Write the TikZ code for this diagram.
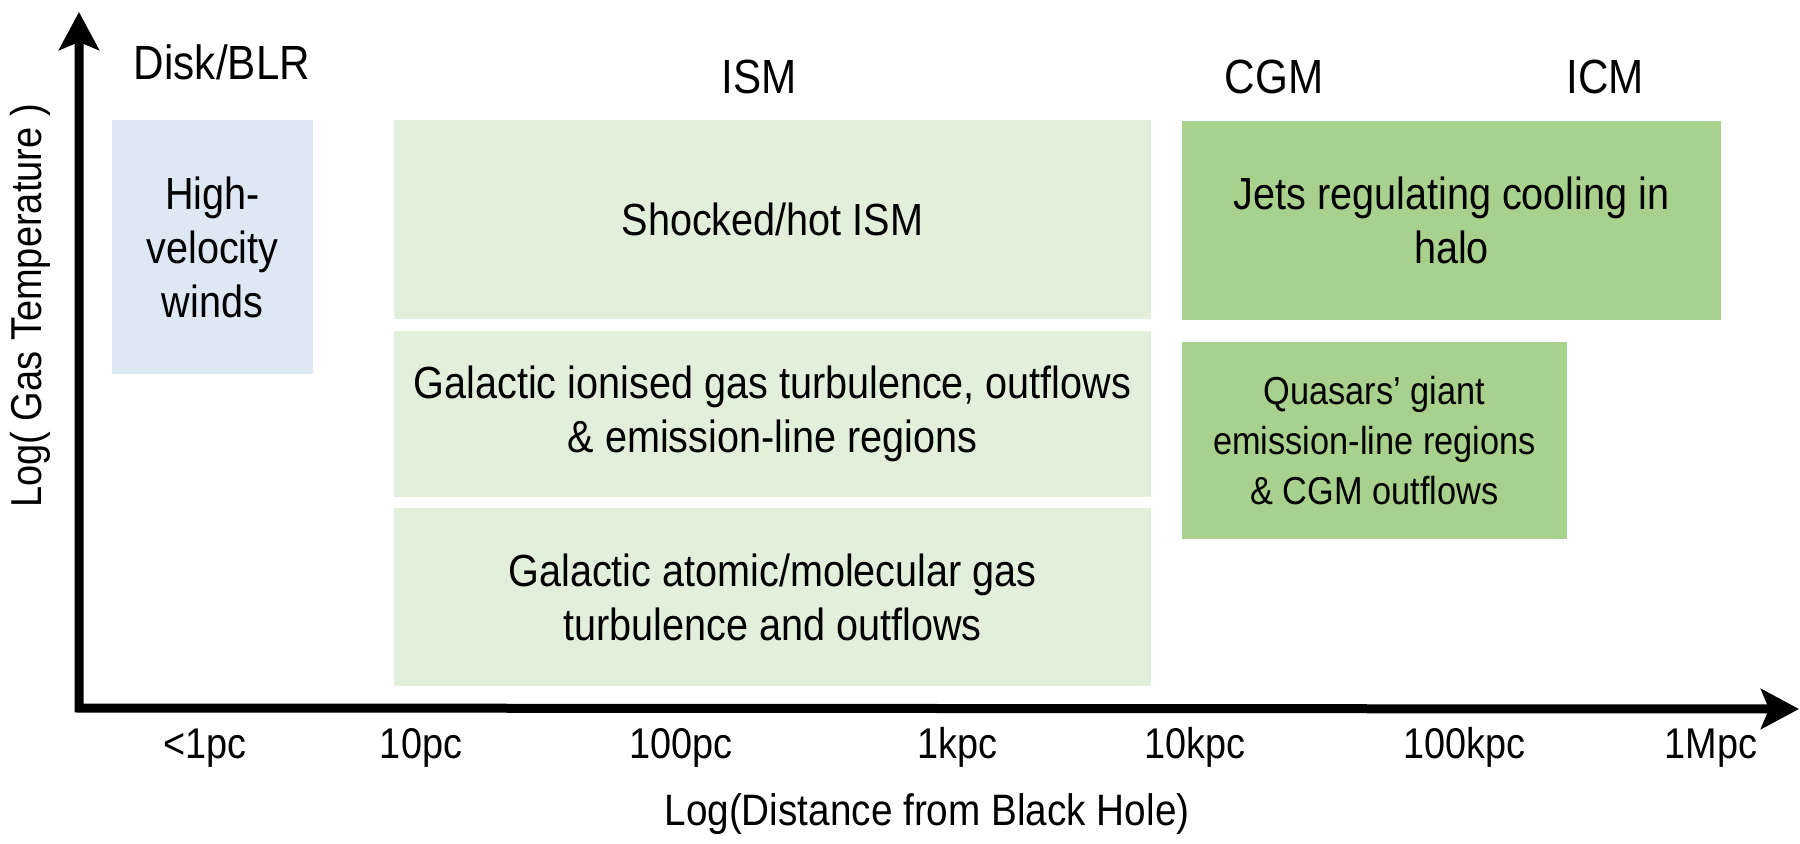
\documentclass[tikz,border=0pt]{standalone}
\usepackage{fontspec}
\setmainfont{Liberation Sans}[FakeStretch=0.88]
\usetikzlibrary{arrows.meta}
\definecolor{bluebox}{HTML}{DEE8F4}
\definecolor{ismgreen}{HTML}{E2EFDA}
\definecolor{cgmgreen}{HTML}{A9D18E}
\tikzset{
  region/.style={rectangle, inner sep=0pt, align=center, font=\fontsize{22.5pt}{27pt}\selectfont},
  head/.style={inner sep=0pt, font=\fontsize{24pt}{28pt}\selectfont},
  tick/.style={inner sep=0pt, font=\fontsize{21.5pt}{26pt}\selectfont},
  axlabel/.style={inner sep=0pt, font=\fontsize{22pt}{26pt}\selectfont},
  axis/.style={line width=4.5pt, {Stealth[length=19pt,width=20pt,inset=4pt]}-{Stealth[length=19pt,width=20pt,inset=4pt]}}
}
\begin{document}
\begin{tikzpicture}[x=0.5pt,y=-0.5pt]
\useasboundingbox (0,0) rectangle (1800,844);

% boxes
\node[region, fill=bluebox, minimum width=100.5pt, minimum height=127pt] (hv) at (212.5,247) {High-\\velocity\\winds};
\node[region, fill=ismgreen, minimum width=378.5pt, minimum height=99.5pt] (shock) at (772.5,219.5) {Shocked/hot ISM};
\node[region, fill=ismgreen, minimum width=378.5pt, minimum height=83pt] (ion) at (772.5,414) {Galactic ionised gas turbulence, outflows\\\& emission-line regions};
\node[region, fill=ismgreen, minimum width=378.5pt, minimum height=89pt] (mol) at (772.5,597) {Galactic atomic/molecular gas\\turbulence and outflows};
\node[region, fill=cgmgreen, minimum width=269.5pt, minimum height=99.5pt] (jets) at (1451.5,220.5) {Jets regulating cooling in\\halo};
\node[region, fill=cgmgreen, minimum width=192.5pt, minimum height=98.5pt, font=\fontsize{19.5pt}{25pt}\selectfont] (qso) at (1374.5,440.5) {Quasars’ giant\\emission-line regions\\\& CGM outflows};

% headings
\node[head, anchor=base] (disk) at (222,80) {Disk/BLR};
\node[head, anchor=base] (ism) at (759,94) {ISM};
\node[head, anchor=base] (cgm) at (1274,94) {CGM};
\node[head, anchor=base] (icm) at (1605,94) {ICM};

% axes
\coordinate (origin) at (79,708);
\coordinate (ytip) at (79,12);
\coordinate (xtip) at (1799,709);
\draw[axis] (ytip) -- (origin) -- (xtip);

% ticks
\node[tick, anchor=base] (t0) at (205,758) {<1pc};
\node[tick, anchor=base] (t1) at (421,758) {10pc};
\node[tick, anchor=base] (t2) at (681,758) {100pc};
\node[tick, anchor=base] (t3) at (957,758) {1kpc};
\node[tick, anchor=base] (t4) at (1195,758) {10kpc};
\node[tick, anchor=base] (t5) at (1464,758) {100kpc};
\node[tick, anchor=base] (t6) at (1711,758) {1Mpc};

\node[axlabel, anchor=base] (xlab) at (927,825) {Log(Distance from Black Hole)};
\node[axlabel, anchor=base, rotate=90, font=\fontsize{21.6pt}{24pt}\selectfont] (ylab) at (41,306) {Log( Gas Temperature )};
\end{tikzpicture}
\end{document}
